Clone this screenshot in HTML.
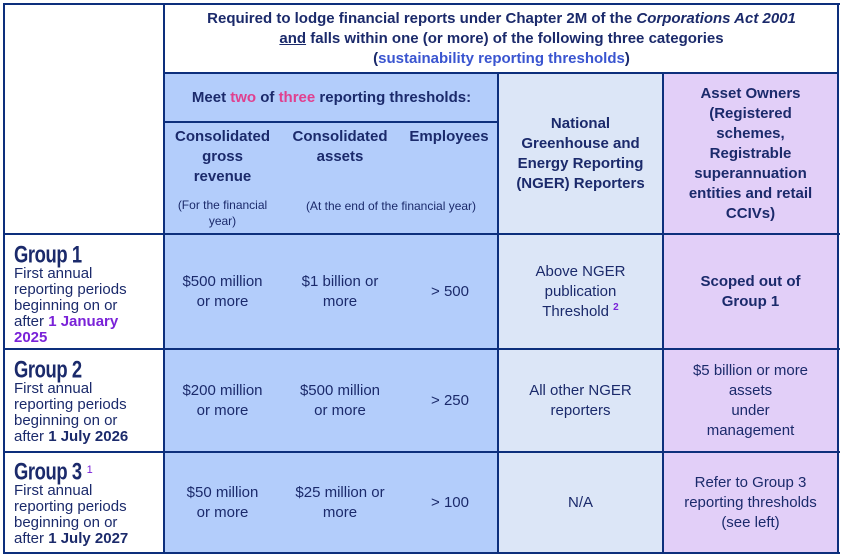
<!DOCTYPE html>
<html><head><meta charset="utf-8"><style>
body{margin:0;width:843px;height:558px;background:#fff;font-family:"Liberation Sans",Arial,sans-serif;color:#1b2a6b;overflow:hidden}
.c{position:absolute;box-sizing:border-box;display:flex;align-items:center;justify-content:center;text-align:center;font-size:15px;line-height:20px}
.c>span.w{display:block}
.b{font-weight:bold}
sup{line-height:0}
.bl{background:#b3cdfb}.ng{background:#dce6f7}.ao{background:#e2cff8}
.ln{position:absolute;background:#0d2f7c}
.g{position:absolute;left:14px;font-size:15px;line-height:16px}
.gh{font-family:"Liberation Sans Narrow","Liberation Sans",sans-serif;font-weight:bold;font-size:23px;line-height:20px;display:inline-block;transform:scale(.8,1.05);transform-origin:left;letter-spacing:-0.5px}
.pk{color:#e0408f}
</style></head><body>
<div class="c bl" style="left:165px;top:74px;width:333px;height:160px"></div>
<div class="c ng" style="left:498px;top:74px;width:165px;height:160px"></div>
<div class="c ao" style="left:663px;top:74px;width:175px;height:160px"></div>
<div class="c bl" style="left:165px;top:234px;width:333px;height:319px"></div>
<div class="c ng" style="left:498px;top:234px;width:165px;height:319px"></div>
<div class="c ao" style="left:663px;top:234px;width:175px;height:319px"></div>

<div class="c b" style="left:165px;top:6px;width:673px;height:66px;flex-direction:column;line-height:20px">
<div>Required to lodge financial reports under Chapter 2M of the <i>Corporations Act 2001</i></div>
<div><u>and</u> falls within one (or more) of the following three categories</div>
<div>(<span style="color:#3a55d0">sustainability reporting thresholds</span>)</div></div>
<div class="c b" style="left:165px;top:74px;width:333px;height:48px"><span class="w">Meet <span class="pk">two</span> of <span class="pk">three</span> reporting thresholds:</span></div>
<div class="c b" style="left:170px;top:127px;width:105px;height:60px;align-items:flex-start"><span class="w">Consolidated gross<br>revenue</span></div>
<div class="c b" style="left:284px;top:127px;width:112px;height:40px;align-items:flex-start"><span class="w">Consolidated assets</span></div>
<div class="c b" style="left:400px;top:127px;width:98px;height:20px">Employees</div>
<div class="c" style="left:170px;top:197px;width:105px;height:34px;font-size:12px;line-height:16px;align-items:flex-start"><span class="w">(For the financial year)</span></div>
<div class="c" style="left:284px;top:198px;width:214px;height:16px;font-size:12px;line-height:16px">(At the end of the financial year)</div>
<div class="c b" style="left:498px;top:74px;width:165px;height:160px;padding:0 12px"><span class="w">National Greenhouse and Energy Reporting (NGER) Reporters</span></div>
<div class="c b" style="left:663px;top:74px;width:175px;height:160px;padding:0 14px"><span class="w">Asset Owners (Registered schemes, Registrable superannuation entities and retail CCIVs)</span></div>

<div class="g" style="top:244px"><span class="gh">Group 1</span><br>First annual<br>reporting periods<br>beginning on or<br>after <b style="color:#7a22d8">1 January<br>2025</b></div>
<div class="g" style="top:359px"><span class="gh">Group 2</span><br>First annual<br>reporting periods<br>beginning on or<br>after <b>1 July 2026</b></div>
<div class="g" style="top:461px"><span class="gh">Group 3</span><sup style="font-size:11px;color:#7a22d8;margin-left:-12px">1</sup><br>First annual<br>reporting periods<br>beginning on or<br>after <b>1 July 2027</b></div>

<div class="c" style="left:165px;top:234px;width:115px;height:115px"><span class="w">$500 million<br>or more</span></div>
<div class="c" style="left:290px;top:234px;width:100px;height:115px"><span class="w">$1 billion or<br>more</span></div>
<div class="c" style="left:400px;top:234px;width:100px;height:115px">&gt; 500</div>
<div class="c" style="left:498px;top:234px;width:165px;height:115px;padding:0 20px"><span class="w">Above NGER<br>publication<br>Threshold <sup style="font-size:10px;color:#7a22d8;font-weight:bold">2</sup></span></div>
<div class="c b" style="left:663px;top:234px;width:175px;height:115px;padding:0 30px"><span class="w">Scoped out of Group 1</span></div>

<div class="c" style="left:165px;top:349px;width:115px;height:103px"><span class="w">$200 million<br>or more</span></div>
<div class="c" style="left:282px;top:349px;width:116px;height:103px"><span class="w">$500 million<br>or more</span></div>
<div class="c" style="left:400px;top:349px;width:100px;height:103px">&gt; 250</div>
<div class="c" style="left:498px;top:349px;width:165px;height:103px;padding:0 24px"><span class="w">All other NGER reporters</span></div>
<div class="c" style="left:663px;top:349px;width:175px;height:103px;padding:0 18px"><span class="w">$5 billion or more<br>assets<br>under<br>management</span></div>

<div class="c" style="left:165px;top:452px;width:115px;height:101px"><span class="w">$50 million<br>or more</span></div>
<div class="c" style="left:282px;top:452px;width:116px;height:101px"><span class="w">$25 million or<br>more</span></div>
<div class="c" style="left:400px;top:452px;width:100px;height:101px">&gt; 100</div>
<div class="c" style="left:498px;top:452px;width:165px;height:101px">N/A</div>
<div class="c" style="left:663px;top:452px;width:175px;height:101px;padding:0 10px"><span class="w">Refer to Group 3 reporting thresholds (see left)</span></div>

<div class="ln" style="left:3px;top:3px;width:837px;height:2px"></div>
<div class="ln" style="left:3px;top:552px;width:837px;height:2px"></div>
<div class="ln" style="left:3px;top:3px;width:2px;height:551px"></div>
<div class="ln" style="left:837px;top:3px;width:2px;height:551px"></div>
<div class="ln" style="left:163px;top:3px;width:2px;height:551px"></div>
<div class="ln" style="left:164px;top:72px;width:675px;height:2px"></div>
<div class="ln" style="left:164px;top:121px;width:334px;height:2px"></div>
<div class="ln" style="left:497px;top:73px;width:2px;height:481px"></div>
<div class="ln" style="left:662px;top:73px;width:2px;height:481px"></div>
<div class="ln" style="left:3px;top:233px;width:837px;height:2px"></div>
<div class="ln" style="left:3px;top:348px;width:837px;height:2px"></div>
<div class="ln" style="left:3px;top:451px;width:837px;height:2px"></div>
</body></html>
